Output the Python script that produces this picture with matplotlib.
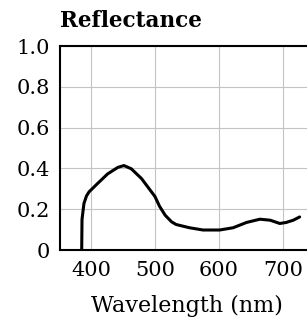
import matplotlib
matplotlib.use("Agg")
import matplotlib.pyplot as plt

# Data
wavelength = [385.5, 386, 389, 393, 397, 410, 426, 442, 451.5, 463, 479, 500, 507, 516, 526, 533,
              554, 575, 601, 622, 643, 664, 680, 695, 705, 716, 726]
reflectance = [0.0, 0.15, 0.228, 0.265, 0.285, 0.325, 0.373, 0.405, 0.414, 0.398, 0.35, 0.262,
               0.215, 0.17, 0.138, 0.125, 0.109, 0.098, 0.098, 0.109, 0.135, 0.151, 0.146, 0.13,
               0.135, 0.146, 0.162]
xticks = [400, 500, 600, 700]
yticks = [0, 0.2, 0.4, 0.6, 0.8, 1.0]
ytick_labels = ["0", "0.2", "0.4", "0.6", "0.8", "1.0"]

W, H = 307, 321
fig = plt.figure(figsize=(W / 100, H / 100), dpi=100)
left, right, top, bottom = 60, 307, 46, 250
ax = fig.add_axes([left / W, (H - bottom) / H, (right - left) / W, (bottom - top) / H])

ax.plot(wavelength, reflectance, color="black", lw=2.2, solid_capstyle="round",
        solid_joinstyle="round", zorder=3)

ax.set_xlim(351.6, 737.5)
ax.set_ylim(0, 1.0)
ax.set_xticks(xticks)
ax.set_yticks(yticks)
ax.set_yticklabels(ytick_labels)
ax.grid(True, color="#c4c4c4", lw=0.8)
ax.set_axisbelow(True)
ax.tick_params(axis="y", length=0, pad=7, labelsize=15)
ax.tick_params(axis="x", length=0, pad=8, labelsize=15)
for lab in ax.get_xticklabels() + ax.get_yticklabels():
    lab.set_family("DejaVu Serif")
ax.spines["right"].set_visible(False)
for s in ["left", "bottom", "top"]:
    ax.spines[s].set_linewidth(1.5)
    ax.spines[s].set_color("black")

fig.text(60 / W, 1 - 21 / H, "Reflectance", family="DejaVu Serif", fontweight="bold",
         fontsize=15.5, ha="left", va="center")
fig.text(187 / W, 1 - 306 / H, "Wavelength (nm)", family="DejaVu Serif",
         fontsize=16, ha="center", va="center")

fig.savefig("out.png", dpi=100)
